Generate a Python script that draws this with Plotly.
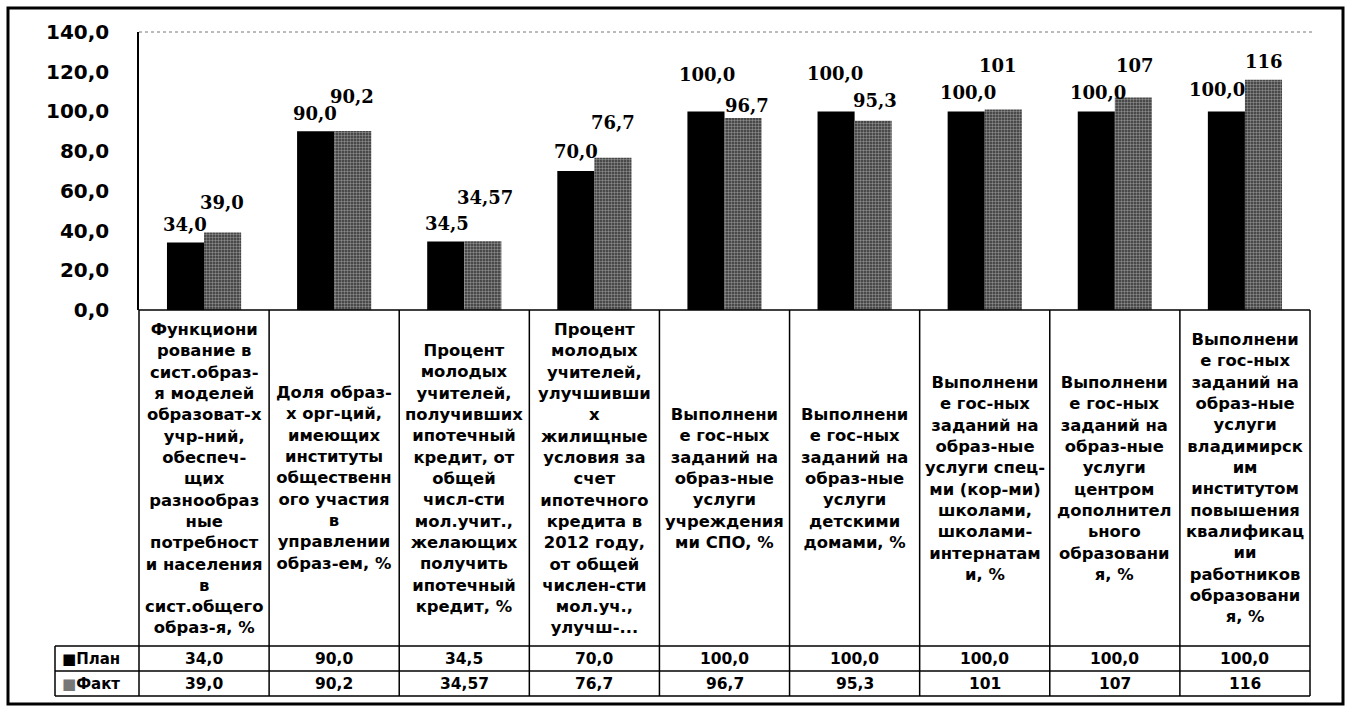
import plotly.graph_objects as go

# ---- data -------------------------------------------------------------
categories = [
    "Функциони\nрование в\nсист.образ-\nя моделей\nобразоват-х\nучр-ний,\nобеспеч-\nщих\nразнообраз\nные\nпотребност\nи населения\nв\nсист.общего\nобраз-я, %",
    "Доля образ-\nх орг-ций,\nимеющих\nинституты\nобщественн\nого участия\nв\nуправлении\nобраз-ем, %",
    "Процент\nмолодых\nучителей,\nполучивших\nипотечный\nкредит, от\nобщей\nчисл-сти\nмол.учит.,\nжелающих\nполучить\nипотечный\nкредит, %",
    "Процент\nмолодых\nучителей,\nулучшивши\nх\nжилищные\nусловия за\nсчет\nипотечного\nкредита в\n2012 году,\nот общей\nчислен-сти\nмол.уч.,\nулучш-...",
    "Выполнени\nе гос-ных\nзаданий на\nобраз-ные\nуслуги\nучреждения\nми СПО, %",
    "Выполнени\nе гос-ных\nзаданий на\nобраз-ные\nуслуги\nдетскими\nдомами, %",
    "Выполнени\nе гос-ных\nзаданий на\nобраз-ные\nуслуги спец-\nми (кор-ми)\nшколами,\nшколами-\nинтернатам\nи, %",
    "Выполнени\nе гос-ных\nзаданий на\nобраз-ные\nуслуги\nцентром\nдополнител\nьного\nобразовани\nя, %",
    "Выполнени\nе гос-ных\nзаданий на\nобраз-ные\nуслуги\nвладимирск\nим\nинститутом\nповышения\nквалификац\nии\nработников\nобразовани\nя, %",
]
plan = [34.0, 90.0, 34.5, 70.0, 100.0, 100.0, 100.0, 100.0, 100.0]
fact = [39.0, 90.2, 34.57, 76.7, 96.7, 95.3, 101, 107, 116]
plan_decimals = [1, 1, 1, 1, 1, 1, 1, 1, 1]
fact_decimals = [1, 1, 2, 1, 1, 1, 0, 0, 0]
series_names = ["План", "Факт"]
y_ticks = [0, 20, 40, 60, 80, 100, 120, 140]

# ---- label placement (pixels above the bar top / sideways) -----------
plan_label_dy = [18, 18, 18, 20, 37, 38, 19, 19, 22]
fact_label_dy = [30, 34, 44, 35, 12, 20, 44, 32, 18]
plan_label_dx = [-19, -19, -17, -18, -18, -20, -17, -17, -28]
fact_label_dx = [18, 18, 21, 19, 22, 20, 13, 20, 19]

# ---- page geometry -------------------------------------------------------
W, H = 1349, 710
L, R, T, B = 139, 1310, 32, 310          # plotting box
ROW_PLAN, ROW_FACT, ROW_END = 646, 671, 696
LEG_LEFT = 55


def fx(px):
    return (px - L) / (R - L)


def fy(py):
    return (B - py) / (B - T)


def fmt(v, d):
    return f"{v:.{d}f}".replace(".", ",")


keys = [c.replace("\n", "<br>") for c in categories]

SANS = "DejaVu Sans"
SERIF = "DejaVu Serif"

fig = go.Figure()
fig.add_trace(go.Bar(
    x=keys, y=plan, name=series_names[0],
    marker=dict(color="black", line=dict(width=0)),
    hoverinfo="y",
))
fig.add_trace(go.Bar(
    x=keys, y=fact, name=series_names[1],
    marker=dict(color="#333333", line=dict(width=0),
                pattern=dict(shape=".", fgcolor="#e0e0e0", size=3, solidity=0.5)),
    hoverinfo="y",
))

annotations = []
# value labels above the bars
for i, k in enumerate(keys):
    annotations.append(dict(
        x=k, y=plan[i], xref="x", yref="y", text=fmt(plan[i], plan_decimals[i]),
        showarrow=False, xshift=plan_label_dx[i], yshift=plan_label_dy[i],
        yanchor="middle", font=dict(family=SERIF, size=18, color="black", weight=700)))
    annotations.append(dict(
        x=k, y=fact[i], xref="x", yref="y", text=fmt(fact[i], fact_decimals[i]),
        showarrow=False, xshift=fact_label_dx[i], yshift=fact_label_dy[i],
        yanchor="middle", font=dict(family=SERIF, size=18, color="black", weight=700)))

# data table under the axis
for i, k in enumerate(keys):
    annotations.append(dict(
        x=k, xref="x", y=fy((B + ROW_PLAN) / 2), yref="paper", text=k,
        showarrow=False, align="center", yanchor="middle",
        font=dict(family=SANS, size=16.4, color="black", weight=700)))
    annotations.append(dict(
        x=k, xref="x", y=fy((ROW_PLAN + ROW_FACT) / 2), yref="paper",
        text=fmt(plan[i], plan_decimals[i]), showarrow=False, yanchor="middle",
        font=dict(family=SANS, size=15.5, color="black", weight=700)))
    annotations.append(dict(
        x=k, xref="x", y=fy((ROW_FACT + ROW_END) / 2), yref="paper",
        text=fmt(fact[i], fact_decimals[i]), showarrow=False, yanchor="middle",
        font=dict(family=SANS, size=15.5, color="black", weight=700)))

legend_marks = ["<span style='color:black'>■</span>", "<span style='color:#777'>■</span>"]
for j, (top, bot) in enumerate([(ROW_PLAN, ROW_FACT), (ROW_FACT, ROW_END)]):
    annotations.append(dict(
        x=fx(LEG_LEFT + 5), xref="paper", xanchor="left",
        y=fy((top + bot) / 2), yref="paper", yanchor="middle",
        text=legend_marks[j] + series_names[j], showarrow=False,
        font=dict(family=SANS, size=15, color="black", weight=700)))

shapes = []
line = dict(color="black", width=1.5)
# horizontal rules of the table
shapes.append(dict(type="line", xref="paper", yref="paper",
                   x0=fx(L), x1=fx(R), y0=fy(B), y1=fy(B), line=line))
for yy in (ROW_PLAN, ROW_FACT, ROW_END):
    shapes.append(dict(type="line", xref="paper", yref="paper",
                       x0=fx(LEG_LEFT), x1=fx(R), y0=fy(yy), y1=fy(yy), line=line))
# vertical rules of the table
n = len(keys)
for i in range(n + 1):
    shapes.append(dict(type="line", xref="paper", yref="paper",
                       x0=i / n, x1=i / n, y0=fy(B), y1=fy(ROW_END), line=line))
shapes.append(dict(type="line", xref="paper", yref="paper",
                   x0=fx(LEG_LEFT), x1=fx(LEG_LEFT), y0=fy(ROW_PLAN), y1=fy(ROW_END), line=line))
# top edge of the plotting box
shapes.append(dict(type="line", xref="paper", yref="paper",
                   x0=0, x1=fx(1312), y0=1, y1=1,
                   line=dict(color="#777", width=1, dash="dot")))
# outer frame
shapes.append(dict(type="rect", xref="paper", yref="paper",
                   x0=fx(8), x1=fx(1343), y0=fy(8), y1=fy(704),
                   line=dict(color="black", width=3), fillcolor="rgba(0,0,0,0)"))

fig.update_layout(
    width=W, height=H, autosize=False,
    margin=dict(l=L, r=W - R, t=T, b=H - B, pad=0),
    paper_bgcolor="white", plot_bgcolor="white",
    barmode="group", bargap=0.43, bargroupgap=0,
    separators=", ",
    showlegend=False,
    annotations=annotations, shapes=shapes,
    xaxis=dict(type="category", showticklabels=False, showgrid=False,
               zeroline=False, showline=False, ticks=""),
    yaxis=dict(range=[0, 140], tickvals=y_ticks, tickformat=".1f",
               showgrid=False, zeroline=False, showline=True,
               linecolor="black", linewidth=1.5, ticks="",
               ticklabelstandoff=24,
               tickfont=dict(family=SANS, size=20, color="black", weight=700)),
)

fig.write_html("out.html")
